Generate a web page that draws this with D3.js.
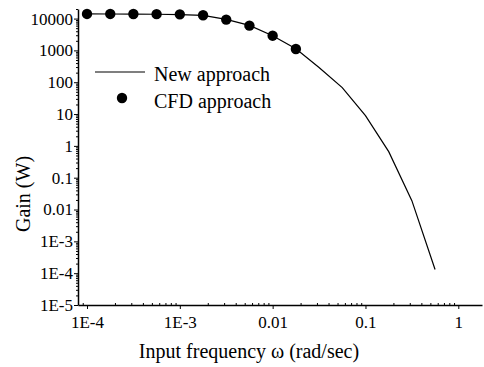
<!DOCTYPE html>
<html>
<head>
<meta charset="utf-8">
<script src="https://cdn.jsdelivr.net/npm/d3@7"></script>
<style>
  body { margin: 0; background: #fff; }
  .axis path, .axis line { stroke: #000; }
</style>
</head>
<body>
<div id="chart"></div>
<script>
// frequency (rad/sec) and gain (W)
const freqNew = [1e-4, 1.78e-4, 3.16e-4, 5.62e-4, 1e-3, 1.78e-3, 3.16e-3, 5.62e-3, 1e-2, 1.78e-2, 3.16e-2, 5.62e-2, 0.1, 0.178, 0.316, 0.562]
const gainNew = [14000, 13950, 13850, 13700, 13400, 12600, 9400, 6100, 2900, 1120, 290, 68, 8.9, 0.66, 0.019, 1.3e-4]

const freqCFD = [1e-4, 1.78e-4, 3.16e-4, 5.62e-4, 1e-3, 1.78e-3, 3.16e-3, 5.62e-3, 1e-2, 1.78e-2]
const gainCFD = [14000, 14000, 13900, 13800, 13600, 12700, 9300, 6000, 2900, 1110]

const xTicks = [1e-4, 1e-3, 1e-2, 1e-1, 1]
const xTickLabels = ["1E-4", "1E-3", "0.01", "0.1", "1"]
const yTicks = [1e4, 1e3, 1e2, 10, 1, 0.1, 0.01, 1e-3, 1e-4, 1e-5]
const yTickLabels = ["10000", "1000", "100", "10", "1", "0.1", "0.01", "1E-3", "1E-4", "1E-5"]

const legendItems = ["New approach", "CFD approach"]

const FONT = "'Liberation Serif', 'Times New Roman', Times, 'DejaVu Serif', serif"
const width = 484, height = 367
const margin = {top: 9, right: 2, bottom: 62, left: 78}

const svg = d3.select("#chart").append("svg")
  .attr("width", width)
  .attr("height", height)
  .style("display", "block")

const x = d3.scaleLog()
  .domain([8e-5, 1.8])
  .range([margin.left, width - margin.right])

const y = d3.scaleLog()
  .domain([1e-5, 2e4])
  .range([height - margin.bottom, margin.top])

// minor ticks 2..9 per decade
function minors(dom){
  let out = []
  for (let k = -6; k <= 5; k++){
    for (let m = 2; m <= 9; m++){
      let v = m * Math.pow(10, k)
      if (v >= dom[0] && v <= dom[1]) out.push(v)
    }
  }
  return out
}

// X axis
const xAxisG = svg.append("g")
  .attr("class", "axis x")
  .attr("transform", "translate(0," + (height - margin.bottom) + ")")
xAxisG.call(d3.axisBottom(x).tickValues(xTicks).tickSizeInner(4).tickSizeOuter(0)
  .tickFormat((d, i) => xTickLabels[i]))
xAxisG.attr("font-family", FONT)
xAxisG.selectAll("text").attr("font-size", 17).attr("fill", "#000").attr("dy", "0.95em")
xAxisG.select(".domain").attr("stroke-width", 1.5)
svg.append("g")
  .attr("class", "axis x-minor")
  .attr("transform", "translate(0," + (height - margin.bottom) + ")")
  .call(d3.axisBottom(x).tickValues(minors(x.domain())).tickSizeInner(-2).tickSizeOuter(0).tickFormat(""))
  .call(g => g.select(".domain").remove())

// Y axis
const yAxisG = svg.append("g")
  .attr("class", "axis y")
  .attr("transform", "translate(" + margin.left + ",0)")
yAxisG.call(d3.axisLeft(y).tickValues(yTicks).tickSizeInner(4).tickSizeOuter(0).tickPadding(1)
  .tickFormat((d, i) => yTickLabels[i]))
yAxisG.attr("font-family", FONT)
yAxisG.selectAll("text").attr("font-size", 17).attr("fill", "#000")
yAxisG.select(".domain").attr("stroke-width", 1.5)
svg.append("g")
  .attr("class", "axis y-minor")
  .attr("transform", "translate(" + margin.left + ",0)")
  .call(d3.axisLeft(y).tickValues(minors(y.domain())).tickSizeInner(2).tickSizeOuter(0).tickFormat(""))
  .call(g => g.select(".domain").remove())

// axis titles
svg.append("text")
  .attr("x", 249)
  .attr("y", 358)
  .attr("text-anchor", "middle")
  .attr("font-family", FONT)
  .attr("font-size", 20)
  .text("Input frequency \u03c9 (rad/sec)")

svg.append("text")
  .attr("transform", "translate(30,194) rotate(-90)")
  .attr("text-anchor", "middle")
  .attr("font-family", FONT)
  .attr("font-size", 20)
  .text("Gain (W)")

// New approach line
const newData = freqNew.map((f, i) => ({f: f, g: gainNew[i]}))
svg.append("path")
  .datum(newData)
  .attr("fill", "none")
  .attr("stroke", "#000")
  .attr("stroke-width", 1.2)
  .attr("d", d3.line()
    .x(function(d){ return x(d.f) })
    .y(function(d){ return y(d.g) }))

// CFD points
const cfdData = freqCFD.map((f, i) => ({f: f, g: gainCFD[i]}))
svg.append("g")
  .selectAll("circle")
  .data(cfdData)
  .join("circle")
  .attr("cx", d => x(d.f))
  .attr("cy", d => y(d.g))
  .attr("r", 5.2)
  .attr("fill", "#000")

// legend
const legend = svg.append("g").attr("transform", "translate(95,72)")
legend.append("line")
  .attr("x1", 0).attr("x2", 50)
  .attr("y1", 0).attr("y2", 0)
  .attr("stroke", "#000")
  .attr("stroke-width", 1.2)
legend.append("circle")
  .attr("cx", 27).attr("cy", 26)
  .attr("r", 5.2)
  .attr("fill", "#000")
legend.selectAll("text.lbl")
  .data(legendItems)
  .join("text")
  .attr("class", "lbl")
  .attr("x", 59)
  .attr("y", (d, i) => 9 + i * 27)
  .attr("font-family", FONT)
  .attr("font-size", 20)
  .text(d => d)
</script>
</body>
</html>
